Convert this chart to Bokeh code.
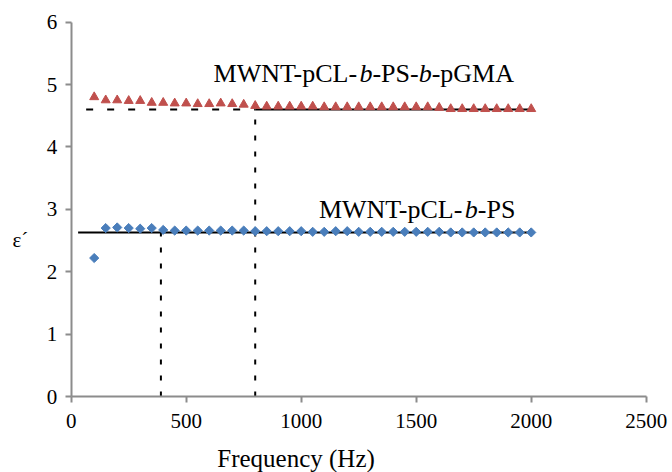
import math
from bokeh.plotting import figure
from bokeh.models import Label, FixedTicker, ColumnDataSource
from bokeh.embed import file_html
from bokeh.resources import INLINE

# ---- data ----
freq = [100, 150, 200, 250, 300, 350, 400, 450, 500, 550, 600, 650, 700, 750,
        800, 850, 900, 950, 1000, 1050, 1100, 1150, 1200, 1250, 1300, 1350,
        1400, 1450, 1500, 1550, 1600, 1650, 1700, 1750, 1800, 1850, 1900,
        1950, 2000]
eps_ps = [2.22, 2.70, 2.71, 2.70, 2.69, 2.70, 2.67, 2.66, 2.66, 2.66, 2.66,
          2.66, 2.66, 2.66, 2.65, 2.65, 2.65, 2.65, 2.65, 2.64, 2.64, 2.65,
          2.65, 2.64, 2.64, 2.64, 2.64, 2.64, 2.64, 2.64, 2.64, 2.63, 2.63,
          2.63, 2.63, 2.63, 2.63, 2.63, 2.63]
eps_pgma = [4.80, 4.75, 4.75, 4.74, 4.74, 4.71, 4.71, 4.70, 4.70, 4.69, 4.69,
            4.70, 4.69, 4.68, 4.66, 4.65, 4.65, 4.65, 4.65, 4.65, 4.64, 4.64,
            4.64, 4.64, 4.64, 4.64, 4.64, 4.64, 4.64, 4.64, 4.63, 4.61, 4.61,
            4.61, 4.61, 4.61, 4.61, 4.61, 4.61]
x_ticks = [0, 500, 1000, 1500, 2000, 2500]
y_ticks = [0, 1, 2, 3, 4, 5, 6]
x_bounds = (0, 2500)
y_bounds = (0, 6)

# reference (plateau) levels and crossover frequencies
ps_level = 2.63
pgma_level = 4.60
ps_line_x = [30, 2010]
pgma_dash_x = [65, 800]
pgma_solid_x = [800, 2010]
ps_cross = 390
pgma_cross = 800

label_pgma = ["MWNT-pCL-", "b", "-PS-", "b", "-pGMA"]
label_ps = ["MWNT-pCL-", "b", "-PS"]
x_title = "Frequency (Hz)"
y_title = "ε´"

FONT = "Liberation Serif"
AXIS_GRAY = "#8c8c8c"

# the frame fills the canvas; the axes sit at x=0 / y=0 with bounds
p = figure(width=672, height=472, x_range=(-307.4, 2614.3),
           y_range=(-1.218, 6.348), output_backend="svg",
           toolbar_location=None, min_border=0)
p.outline_line_color = None
p.xgrid.visible = False
p.ygrid.visible = False
p.background_fill_color = "white"
p.border_fill_color = "white"

for ax, ticks, bnd in ((p.xaxis[0], x_ticks, x_bounds),
                       (p.yaxis[0], y_ticks, y_bounds)):
    ax.ticker = FixedTicker(ticks=ticks)
    ax.bounds = bnd
    ax.fixed_location = 0
    ax.axis_line_color = AXIS_GRAY
    ax.axis_line_width = 2
    ax.major_tick_line_color = AXIS_GRAY
    ax.major_tick_line_width = 2
    ax.major_tick_out = 6
    ax.major_tick_in = 0
    ax.minor_tick_line_color = None
    ax.major_label_text_font = FONT
    ax.major_label_text_color = "black"
p.xaxis.major_label_text_font_size = "21px"
p.yaxis.major_label_text_font_size = "21px"
p.xaxis.major_label_standoff = 11
p.yaxis.major_label_standoff = 8

# reference lines
p.line(ps_line_x, [ps_level, ps_level], line_color="black", line_width=2)
p.line(pgma_dash_x, [pgma_level, pgma_level], line_color="black", line_width=2,
       line_dash="7 14")
p.line(pgma_solid_x, [pgma_level, pgma_level], line_color="black", line_width=2)
p.line([ps_cross, ps_cross], [0, ps_level], line_color="black", line_width=2,
       line_dash="5 11")
p.line([pgma_cross, pgma_cross], [0, pgma_level], line_color="black",
       line_width=2, line_dash="5 11")

src = ColumnDataSource(dict(f=freq, a=eps_ps, b=eps_pgma))
p.scatter("f", "b", source=src, marker="triangle", size=9,
          fill_color="#c0504d", line_color="#c0504d")
p.scatter("f", "a", source=src, marker="square", size=6.5, angle=math.pi / 4,
          fill_color="#4a7ebb", line_color="#4a7ebb")

# per-character widths (em) of Times-compatible serif
W = {"M": .889, "W": .944, "N": .722, "T": .611, "-": .333, "p": .5, "C": .667,
     "L": .611, "b": .5, "P": .556, "S": .556, "G": .722, "A": .722}


def seg_label(x, y, parts, size):
    off = 0.0
    for i, s in enumerate(parts):
        p.add_layout(Label(x=x, y=y, x_offset=off, text=s, text_font=FONT,
                           text_font_size=f"{size}px",
                           text_font_style="italic" if i % 2 else "normal",
                           text_baseline="alphabetic", text_color="black"))
        off += sum(W[c] for c in s) * size


seg_label(619, 5.17, label_pgma, 26)
seg_label(1077, 3.00, label_ps, 26)

p.add_layout(Label(x=-255, y=2.51, text=y_title, text_font=FONT,
                   text_font_size="21px", text_baseline="alphabetic",
                   text_color="black"))
p.add_layout(Label(x=635, y=-1.0, text=x_title, text_font=FONT,
                   text_font_size="25px", text_baseline="alphabetic",
                   text_color="black"))

open("out.html", "w").write(file_html(p, INLINE))
